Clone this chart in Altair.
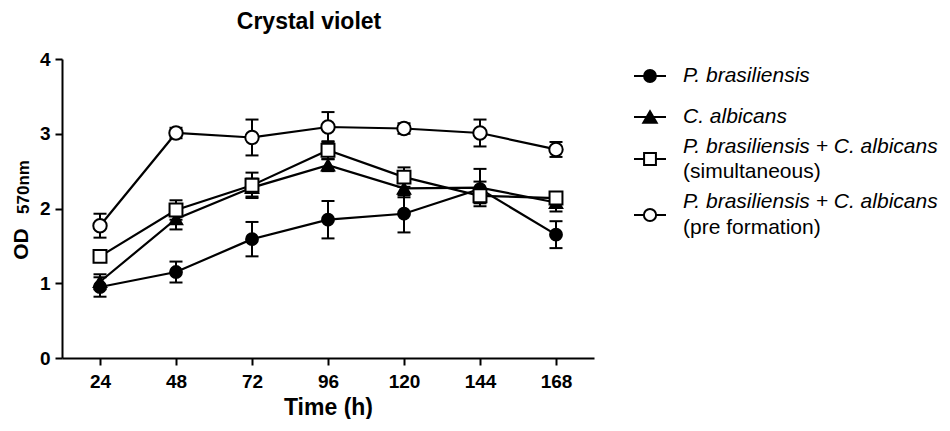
import altair as alt
import pandas as pd

# ---- data ----
time_h = [24, 48, 72, 96, 120, 144, 168]
series_names = ["P. brasiliensis", "C. albicans", "simultaneous", "pre formation"]

pb_mean = [0.95, 1.15, 1.59, 1.85, 1.93, 2.26, 1.65]
pb_err = [0.13, 0.14, 0.23, 0.25, 0.25, 0.10, 0.18]
ca_mean = [1.02, 1.86, 2.28, 2.58, 2.27, 2.28, 2.08]
ca_err = [0.10, 0.14, 0.12, 0.08, 0.12, 0.25, 0.12]
sim_mean = [1.36, 1.98, 2.31, 2.78, 2.42, 2.17, 2.14]
sim_err = [0.05, 0.13, 0.17, 0.12, 0.13, 0.10, 0.08]
pre_mean = [1.77, 3.01, 2.95, 3.09, 3.07, 3.01, 2.79]
pre_err = [0.16, 0.07, 0.24, 0.20, 0.07, 0.18, 0.10]

y_ticks = [0, 1, 2, 3, 4]

shape_range = ["circle", "triangle-up", "square", "circle"]
fill_range = ["black", "black", "white", "white"]
size_range = [140, 180, 140, 150]

rows = []
for name, means, errs in zip(series_names,
                             [pb_mean, ca_mean, sim_mean, pre_mean],
                             [pb_err, ca_err, sim_err, pre_err]):
    for t, m, e in zip(time_h, means, errs):
        rows.append({"series": name, "time": t, "od": m, "lo": m - e, "hi": m + e})
df = pd.DataFrame(rows)

FONT = "Liberation Sans"

x_enc = alt.X("time:Q", scale=alt.Scale(domain=[12, 180], nice=False, zero=False),
              axis=alt.Axis(values=time_h, title="Time (h)", labelPadding=7,
                            titlePadding=5))
y_enc = alt.Y("od:Q", scale=alt.Scale(domain=[0, 4], nice=False),
              axis=alt.Axis(values=y_ticks, title=None, labelPadding=5, format="d"))

base = alt.Chart(df)

lines = base.mark_line(color="black", strokeWidth=2.2).encode(
    x=x_enc, y=y_enc, detail="series:N", order="time:Q")

err_rule = base.mark_rule(color="black", strokeWidth=2).encode(
    x="time:Q", y="lo:Q", y2="hi:Q")
cap_lo = base.mark_tick(orient="horizontal", size=13, thickness=2, color="black",
                        opacity=1).encode(x="time:Q", y="lo:Q")
cap_hi = base.mark_tick(orient="horizontal", size=13, thickness=2, color="black",
                        opacity=1).encode(x="time:Q", y="hi:Q")

points = base.mark_point(filled=True, stroke="black", strokeWidth=2, opacity=1).encode(
    x="time:Q", y="od:Q",
    shape=alt.Shape("series:N", scale=alt.Scale(domain=series_names, range=shape_range),
                    legend=None),
    fill=alt.Fill("series:N", scale=alt.Scale(domain=series_names, range=fill_range),
                  legend=None),
    size=alt.Size("series:N", scale=alt.Scale(domain=series_names, range=size_range),
                  legend=None),
)

one = pd.DataFrame({"a": [0]})

# y axis title with subscript
ytitle_main = alt.Chart(one).mark_text(text="OD", font=FONT, fontSize=21, fontWeight="bold",
                                       angle=270, align="center", baseline="alphabetic",
                                       color="black").encode(
    x=alt.value(-34), y=alt.value(185))
ytitle_sub = alt.Chart(one).mark_text(text="570nm", font=FONT, fontSize=17, fontWeight="bold",
                                      angle=270, align="center", baseline="alphabetic",
                                      color="black").encode(
    x=alt.value(-33), y=alt.value(128))

# custom legend
legend_items = [
    (17, "circle", "black", 140, [("P. brasiliensis", 17, "italic")]),
    (58, "triangle-up", "black", 180, [("C. albicans", 58, "italic")]),
    (100, "square", "white", 140, [("P. brasiliensis + C. albicans", 88, "italic"),
                                   ("(simultaneous)", 113, "normal")]),
    (156, "circle", "white", 150, [("P. brasiliensis + C. albicans", 143, "italic"),
                                   ("(pre formation)", 169, "normal")]),
]
legend_layers = []
for sy, shp, fl, sz, texts in legend_items:
    legend_layers.append(alt.Chart(one).mark_rule(color="black", strokeWidth=2).encode(
        x=alt.value(572), x2=alt.value(604), y=alt.value(sy)))
    legend_layers.append(alt.Chart(one).mark_point(shape=shp, filled=True, fill=fl,
                                                   stroke="black", strokeWidth=2,
                                                   opacity=1, size=sz).encode(
        x=alt.value(588), y=alt.value(sy)))
    for txt, ty, style in texts:
        legend_layers.append(alt.Chart(one).mark_text(text=txt, font=FONT, fontSize=21,
                                                      fontStyle=style, align="left",
                                                      baseline="middle",
                                                      color="black").encode(
            x=alt.value(621), y=alt.value(ty)))

chart = alt.layer(lines, err_rule, cap_lo, cap_hi, points, ytitle_main, ytitle_sub,
                  *legend_layers).properties(
    width=532, height=299,
    padding={"left": 3, "top": 3, "right": 0, "bottom": 0},
    title=alt.TitleParams("Crystal violet", font=FONT, fontSize=23, fontWeight="bold",
                          anchor="middle", dx=-19, offset=16, color="black"),
).configure_view(stroke=None).configure_axis(
    grid=False, domainColor="black", domainWidth=2, tickColor="black", tickWidth=2,
    tickSize=7, labelFont=FONT, labelFontSize=19, labelFontWeight="bold",
    labelColor="black", titleFont=FONT, titleFontSize=23, titleFontWeight="bold",
    titleColor="black",
)

chart.save("out.html", embed_options={"renderer": "svg", "actions": False})
